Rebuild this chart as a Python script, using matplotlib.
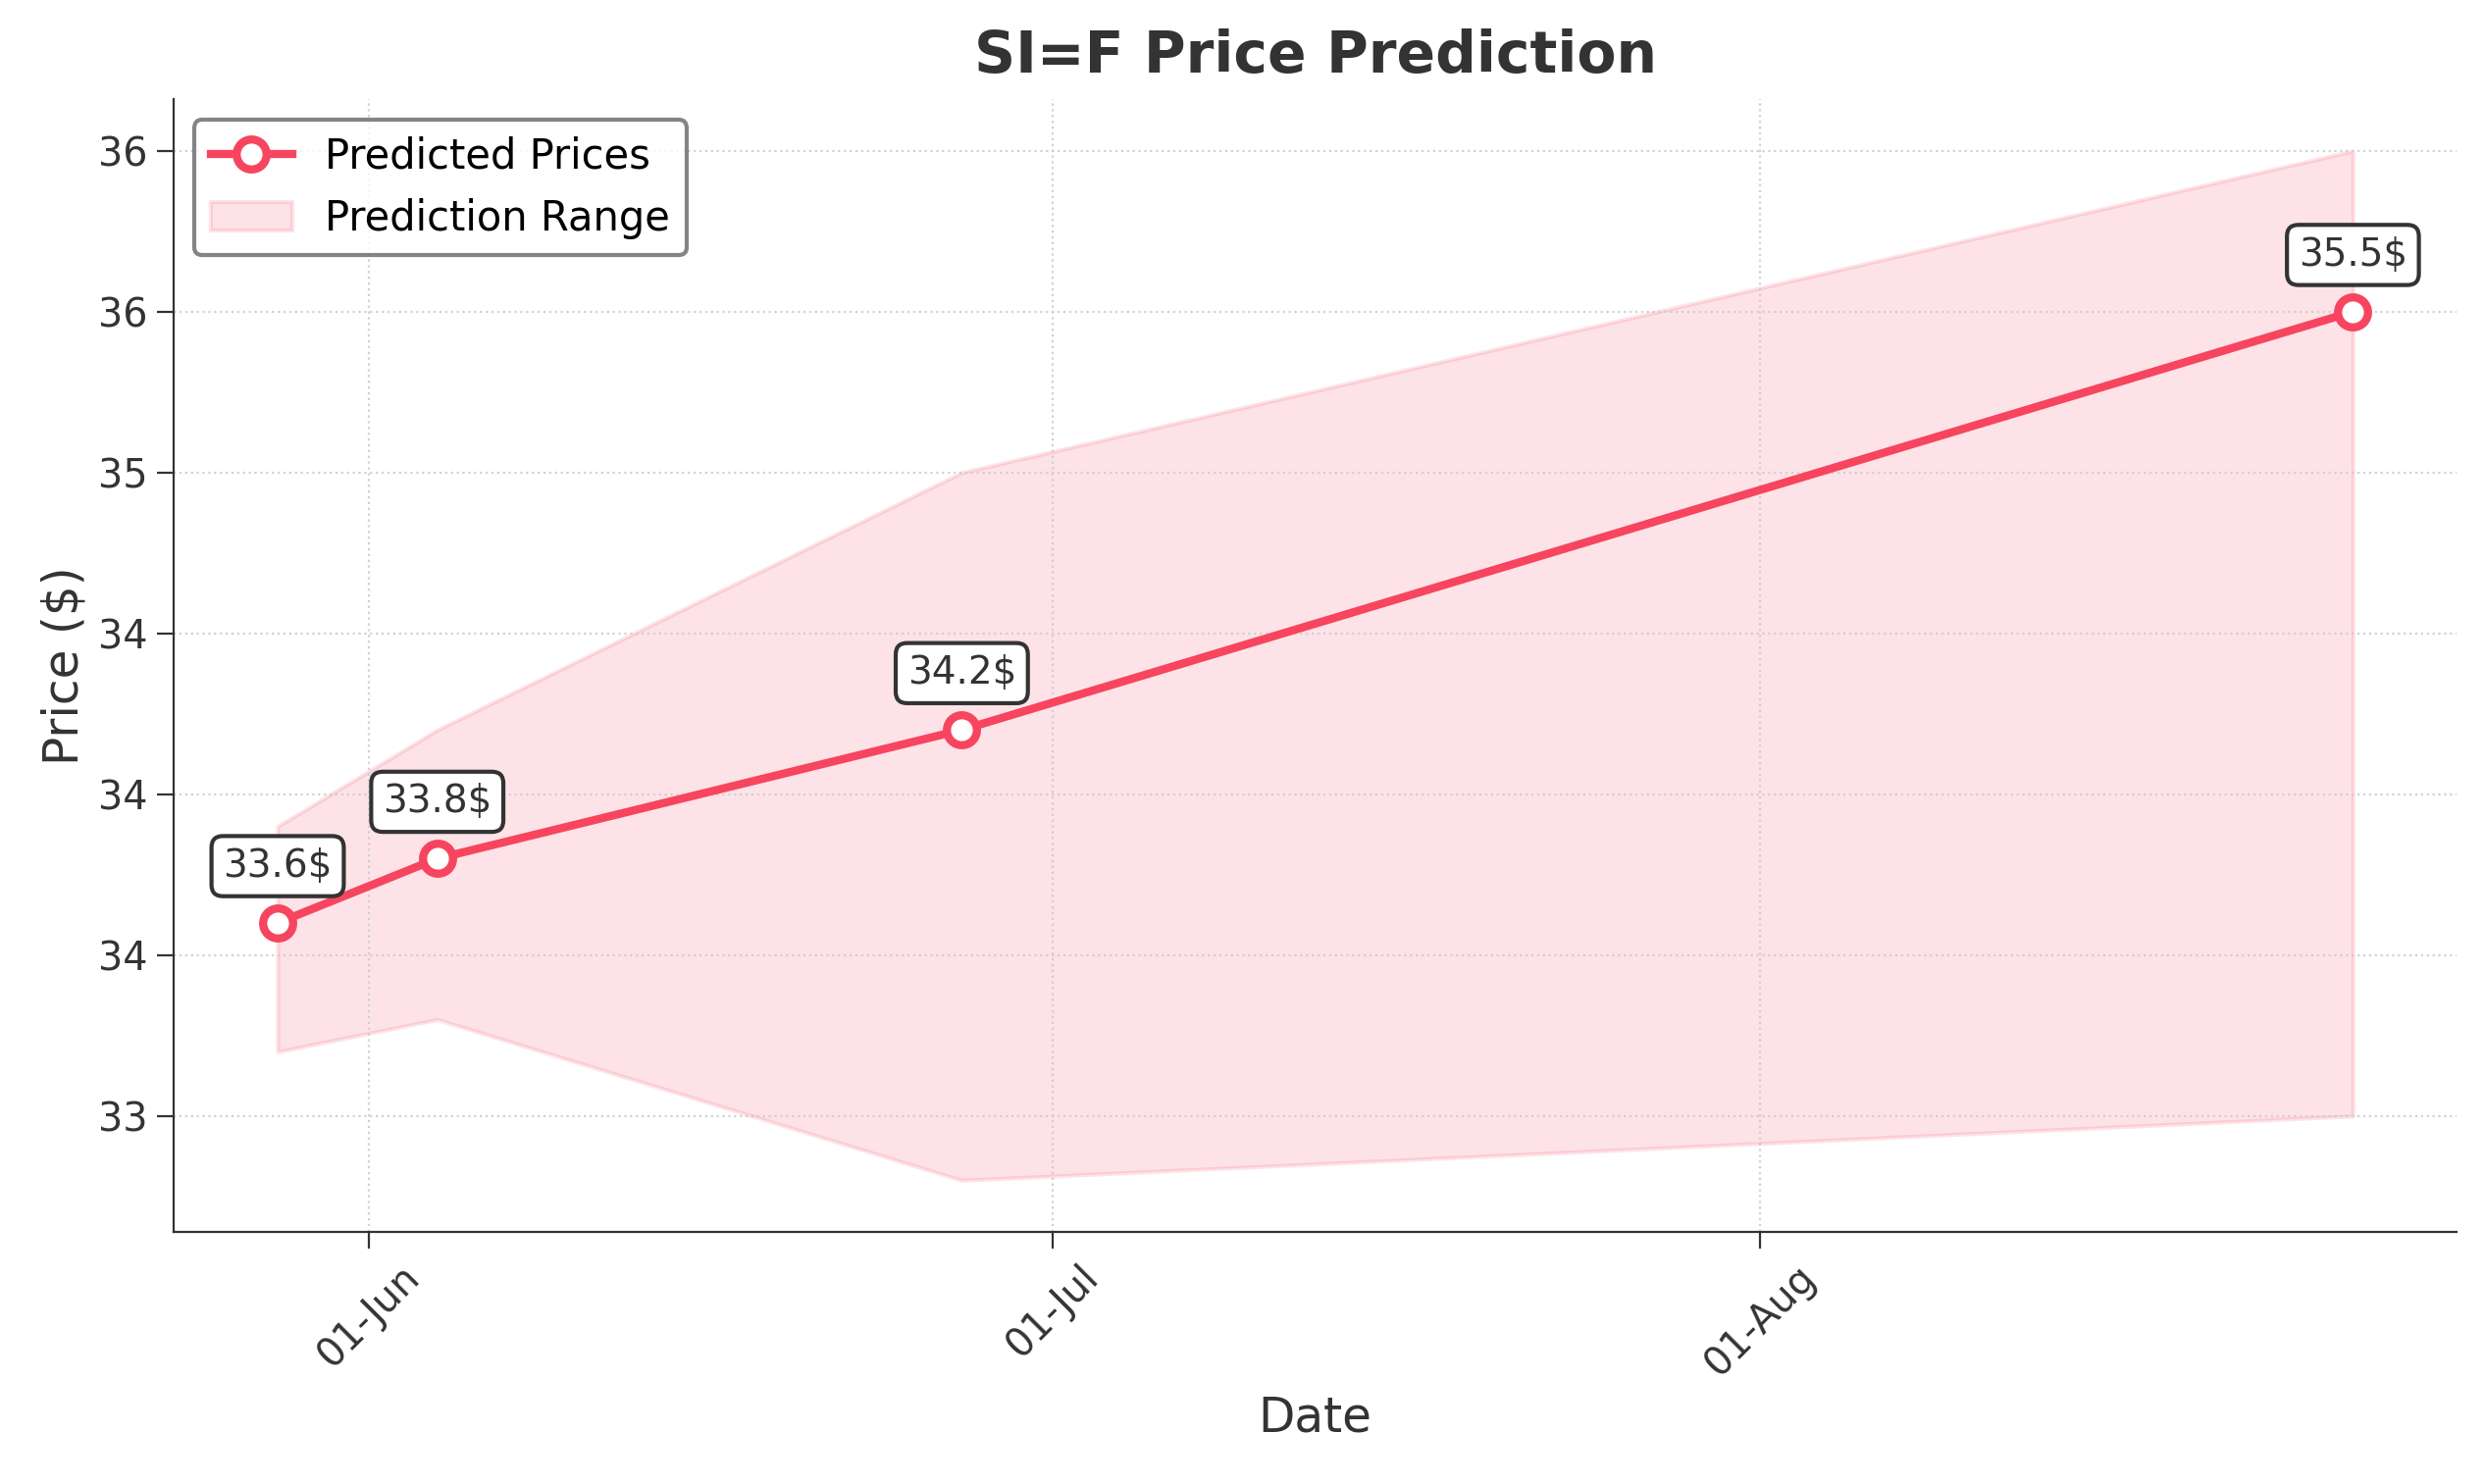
import numpy as np
import pandas as pd
import matplotlib
matplotlib.use("Agg")
import matplotlib.pyplot as plt
import matplotlib.dates as mdates
from matplotlib.ticker import FormatStrFormatter

dates = pd.to_datetime(["2024-05-28", "2024-06-04", "2024-06-27", "2024-08-27"])
predicted = [33.6, 33.8, 34.2, 35.5]
lower = [33.2, 33.3, 32.8, 33.0]
upper = [33.9, 34.2, 35.0, 36.0]
labels = ["33.6$", "33.8$", "34.2$", "35.5$"]

color = "#F7455F"

fig, ax = plt.subplots(figsize=(12.66, 7.565), dpi=200)
fig.subplots_adjust(left=0.07, right=0.989, top=0.933, bottom=0.17)

ax.fill_between(dates, lower, upper, color=color, alpha=0.15, linewidth=1.5,
                label="Prediction Range")
ax.plot(dates, predicted, color=color, linewidth=3, marker="o", markersize=11,
        markerfacecolor="white", markeredgewidth=3, markeredgecolor=color,
        label="Predicted Prices")

for d, p, t in zip(dates, predicted, labels):
    ax.annotate(t, (d, p), xytext=(0, 14), textcoords="offset points",
                ha="center", va="bottom", fontsize=14, color="#333333",
                bbox=dict(boxstyle="round,pad=0.3", fc="white", ec="#333333", lw=1.5))

ax.set_title("SI=F Price Prediction", fontsize=21, fontweight="bold", color="#333333", pad=10)
ax.set_xlabel("Date", fontsize=17.5, color="#333333")
ax.set_ylabel("Price ($)", fontsize=17.5, color="#333333")

ax.xaxis.set_major_locator(mdates.MonthLocator())
ax.xaxis.set_major_formatter(mdates.DateFormatter("%d-%b"))
ax.yaxis.set_major_formatter(FormatStrFormatter("%.0f"))
plt.setp(ax.get_xticklabels(), rotation=45, ha="center")
ax.tick_params(labelsize=14.3, colors="#333333", length=6)

ax.grid(True, linestyle=":", color="#cccccc", alpha=0.9)
ax.spines["top"].set_visible(False)
ax.spines["right"].set_visible(False)
ax.spines["left"].set_color("#333333")
ax.spines["bottom"].set_color("#333333")

handles, labs = ax.get_legend_handles_labels()
leg = ax.legend(handles[::-1], labs[::-1], loc="upper left", fontsize=15,
                edgecolor="#666666", fancybox=True)
leg.get_frame().set_linewidth(1.5)

plt.savefig("out.png")
